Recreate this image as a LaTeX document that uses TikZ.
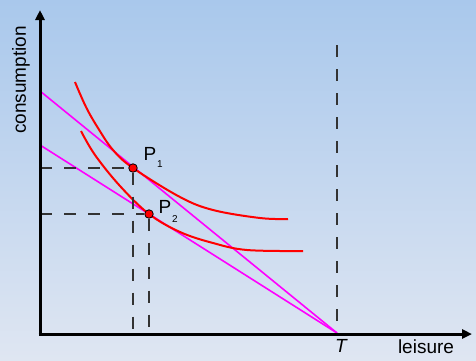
\documentclass[tikz,border=0pt]{standalone}
\usepackage{fontspec}
\setmainfont{Liberation Sans}
\usetikzlibrary{arrows.meta}
\definecolor{bgtop}{HTML}{A9C8EC}
\definecolor{bgbot}{HTML}{DFE6F2}
\definecolor{magline}{HTML}{FF00FF}
\definecolor{dashgray}{HTML}{333333}
\tikzset{
  axisline/.style={line width=3pt, -{Triangle[length=10pt,width=9pt]}},
  budget/.style={magline, line width=1.6pt},
  indiff/.style={red, line width=2pt},
  guide/.style={dashgray, line width=1.1pt, dash pattern=on 12pt off 12pt},
  dot/.style={circle, fill=red, draw=black, line width=0.8pt, inner sep=0pt, minimum size=8.5pt},
  lbl/.style={font=\fontsize{19}{19}\selectfont, inner sep=0pt},
  sub/.style={font=\fontsize{10}{10}\selectfont, inner sep=0pt},
}
\begin{document}
\begin{tikzpicture}[x=1pt,y=-1pt]
\shade[top color=bgtop, bottom color=bgbot] (0,0) rectangle (476,360);
\useasboundingbox (0,0) rectangle (476,360);
% coordinates
\coordinate (O) at (40,334);
\coordinate (ytop) at (40,10);
\coordinate (xend) at (472,334);
\coordinate (A1) at (40,91);
\coordinate (A2) at (40,145);
\coordinate (Tp) at (337,333);
\coordinate (Ttop) at (337,45);
\coordinate (Tbot) at (337,330);
\coordinate (Y1) at (40,168);
\coordinate (Y2) at (40,214);
\coordinate (X1) at (133,330);
\coordinate (X2) at (149,330);
% guides
\draw[guide] (Ttop) -- (Tbot);
% budget lines
\draw[budget] (A1) -- (Tp);
\draw[budget] (A2) -- (Tp);
% indifference curves
\draw[indiff] plot[smooth, tension=0.6] coordinates {(75,82) (86,107) (98,128) (113,150) (133,168) (180,197) (213,210) (260,218) (288,219)};
\draw[indiff] plot[smooth, tension=0.6] coordinates {(81,131) (95,155) (120,186) (149,214) (180,232) (213,243) (247,250) (303,251)};
% points
\node[dot] (P1) at (133,168) {};
\node[dot] (P2) at (149,214) {};
\draw[guide] (Y1) -- (P1);
\draw[guide] (Y2) -- (P2);
\draw[guide] (P1) -- (X1);
\draw[guide] (P2) -- (X2);
% axes
\draw[axisline] (O) -- (ytop);
\draw[axisline] ([xshift=-1.5pt]O) -- (xend);
% labels
\node[lbl] (p1l) at (150,154) {P};
\node[sub] (p1s) at (160,164) {1};
\node[lbl] (p2l) at (165,207) {P};
\node[sub] (p2s) at (175,219) {2};
\node[lbl, rotate=90] (cons) at (21,80) {consumption};
\node[lbl, anchor=north] (lei) at (426,340) {leisure};
\node[lbl, anchor=north, font=\fontsize{19}{19}\selectfont\itshape] (tl) at (341,339) {T};
\end{tikzpicture}
\end{document}
